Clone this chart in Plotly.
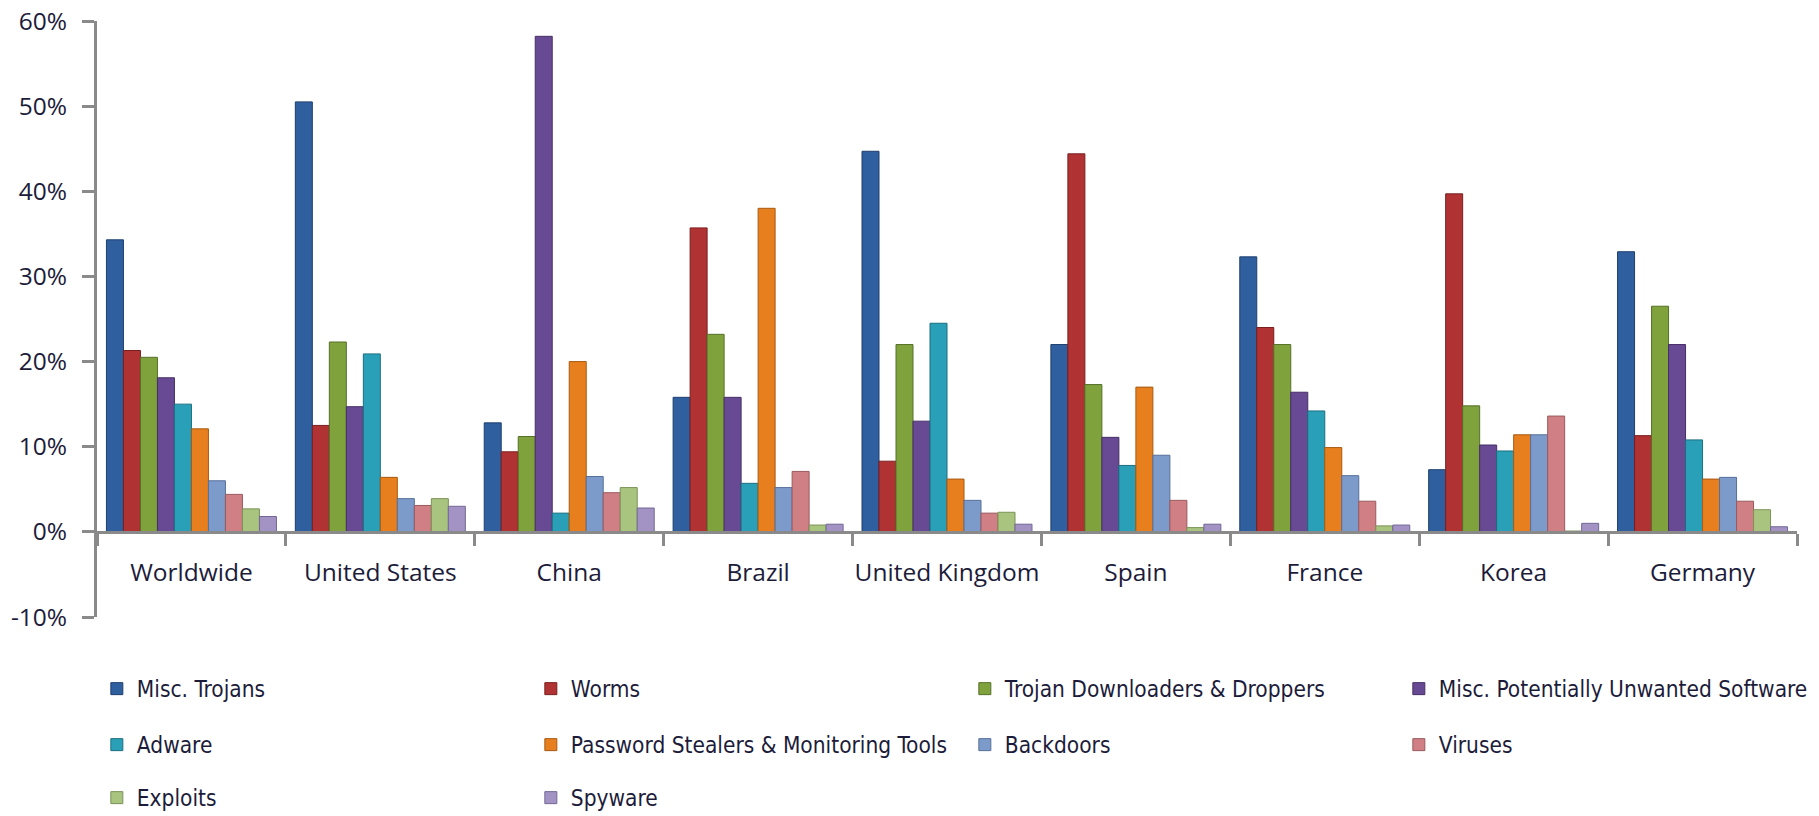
import plotly.graph_objects as go

categories = ["Worldwide", "United States", "China", "Brazil", "United Kingdom",
              "Spain", "France", "Korea", "Germany"]

series_names = ["Misc. Trojans", "Worms", "Trojan Downloaders & Droppers",
                "Misc. Potentially Unwanted Software", "Adware",
                "Password Stealers & Monitoring Tools", "Backdoors", "Viruses",
                "Exploits", "Spyware"]

misc_trojans = [34.3, 50.5, 12.8, 15.8, 44.7, 22.0, 32.3, 7.3, 32.9]
worms = [21.3, 12.5, 9.4, 35.7, 8.3, 44.4, 24.0, 39.7, 11.3]
trojan_downloaders = [20.5, 22.3, 11.2, 23.2, 22.0, 17.3, 22.0, 14.8, 26.5]
misc_pus = [18.1, 14.7, 58.2, 15.8, 13.0, 11.1, 16.4, 10.2, 22.0]
adware = [15.0, 20.9, 2.2, 5.7, 24.5, 7.8, 14.2, 9.5, 10.8]
password_stealers = [12.1, 6.4, 20.0, 38.0, 6.2, 17.0, 9.9, 11.4, 6.2]
backdoors = [6.0, 3.9, 6.5, 5.2, 3.7, 9.0, 6.6, 11.4, 6.4]
viruses = [4.4, 3.1, 4.6, 7.1, 2.2, 3.7, 3.6, 13.6, 3.6]
exploits = [2.7, 3.9, 5.2, 0.8, 2.3, 0.5, 0.7, 0.1, 2.6]
spyware = [1.8, 3.0, 2.8, 0.9, 0.9, 0.9, 0.8, 1.0, 0.6]

series_values = [misc_trojans, worms, trojan_downloaders, misc_pus, adware,
                 password_stealers, backdoors, viruses, exploits, spyware]

y_tick_values = [-0.1, 0.0, 0.1, 0.2, 0.3, 0.4, 0.5, 0.6]
y_tick_labels = ["-10%", "0%", "10%", "20%", "30%", "40%", "50%", "60%"]

colors = ["#2F5F9F", "#B03232", "#7FA23C", "#684A94", "#2AA0B8",
          "#E87F1E", "#7C9BCB", "#D08084", "#A9C47F", "#A293C4"]
edge_colors = ["#1E3F6E", "#7A1F1F", "#56702A", "#462F66", "#1B6F80",
               "#A85A12", "#56709A", "#9A5A5E", "#7A9258", "#736796"]

legend_rows = ["legend", "legend", "legend", "legend",
               "legend2", "legend2", "legend2", "legend2",
               "legend3", "legend3"]

fig = go.Figure()
for name, vals, col, ecol, lg in zip(series_names, series_values, colors, edge_colors, legend_rows):
    fig.add_trace(go.Bar(
        name=name, x=categories, y=[v / 100 for v in vals],
        marker=dict(color=col, line=dict(color=ecol, width=1)),
        legend=lg,
    ))

text_color = "#1C1C3A"
axis_color = "#8A8A8A"

W, H = 1819, 816
ml, mr, mt, mb = 97, 22, 21, 199
plot_h = H - mt - mb


def row_y(px):
    return (H - mb - px) / plot_h


leg_common = dict(orientation="h", x=-0.0001, xanchor="left", yanchor="middle",
                  entrywidth=389, entrywidthmode="pixels",
                  font=dict(family="DejaVu Sans Condensed", size=22.5, color=text_color),
                  bgcolor="rgba(0,0,0,0)", traceorder="normal")

fig.update_layout(
    width=W, height=H,
    margin=dict(l=ml, r=mr, t=mt, b=mb, autoexpand=False),
    paper_bgcolor="white", plot_bgcolor="white",
    barmode="group", bargap=0.1, bargroupgap=0.0,
    font=dict(family="Open Sans", size=24, color=text_color),
    showlegend=True,
    legend=dict(y=row_y(689), **leg_common),
    legend2=dict(y=row_y(745), **leg_common),
    legend3=dict(y=row_y(798), **leg_common),
    xaxis=dict(
        type="category", anchor="free", position=0.1 / 0.7,
        showline=True, linecolor=axis_color, linewidth=3,
        ticks="outside", tickson="boundaries", ticklen=12, tickwidth=3,
        tickcolor=axis_color, showgrid=False, zeroline=False,
        ticklabelstandoff=18, tickangle=0,
        tickfont=dict(family="Open Sans", size=24.5, color=text_color),
    ),
    yaxis=dict(
        range=[-0.1, 0.6], tickmode="array", tickvals=y_tick_values,
        ticktext=y_tick_labels,
        showline=True, linecolor=axis_color, linewidth=3,
        ticks="outside", ticklen=12, tickwidth=3, tickcolor=axis_color,
        showgrid=False, zeroline=False, ticklabelstandoff=10,
        tickfont=dict(family="Open Sans", size=24.5, color=text_color),
    ),
)

fig.write_html("out.html")
